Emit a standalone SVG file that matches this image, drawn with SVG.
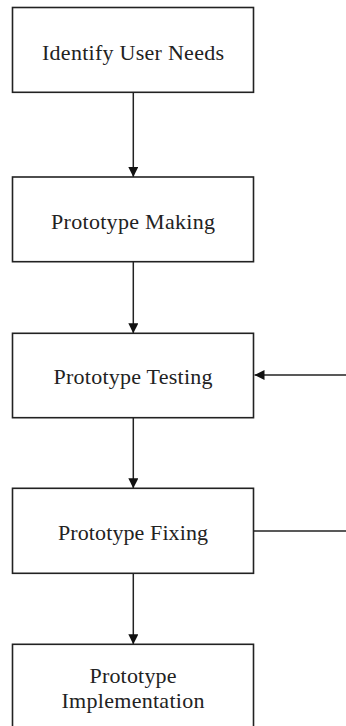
<svg xmlns="http://www.w3.org/2000/svg" width="346" height="726" viewBox="0 0 346 726">
<defs>
<marker id="ah" viewBox="0 0 10 10" refX="10" refY="5" markerWidth="10" markerHeight="10" markerUnits="userSpaceOnUse" orient="auto">
<path d="M0,0 L10,5 L0,10 z" fill="#111"/>
</marker>
<style>
.box{fill:#fff;stroke:#222;stroke-width:1.6}
.lbl{font-family:'Liberation Serif','Times New Roman',Times,'DejaVu Serif',serif;font-size:22px;fill:#222;text-anchor:middle}
.con{stroke:#222;stroke-width:1.5;fill:none}
</style>
</defs>
<rect width="346" height="726" fill="#fff"/>
<g id="connectors">
<line class="con" x1="133.3" y1="92.3" x2="133.3" y2="177" marker-end="url(#ah)"/>
<line class="con" x1="133.3" y1="261.7" x2="133.3" y2="333.3" marker-end="url(#ah)"/>
<line class="con" x1="133.3" y1="417.7" x2="133.3" y2="488.3" marker-end="url(#ah)"/>
<line class="con" x1="133.3" y1="573.3" x2="133.3" y2="644.3" marker-end="url(#ah)"/>
<line class="con" x1="346" y1="375" x2="254.5" y2="375" marker-end="url(#ah)"/>
<line class="con" x1="253.5" y1="531" x2="346" y2="531"/>
</g>
<g id="n1">
<rect class="box" x="12.5" y="7.5" width="241" height="84.8"/>
<text class="lbl" x="133" y="60" textLength="182">Identify User Needs</text>
</g>
<g id="n2">
<rect class="box" x="12.5" y="177" width="241" height="84.7"/>
<text class="lbl" x="133" y="229.3" textLength="164">Prototype Making</text>
</g>
<g id="n3">
<rect class="box" x="12.5" y="333.3" width="241" height="84.4"/>
<text class="lbl" x="133" y="384" textLength="159">Prototype Testing</text>
</g>
<g id="n4">
<rect class="box" x="12.5" y="488.3" width="241" height="85"/>
<text class="lbl" x="133" y="539.5" textLength="150">Prototype Fixing</text>
</g>
<g id="n5">
<rect class="box" x="12.5" y="644.3" width="241" height="90"/>
<text class="lbl" x="133" y="682.7" textLength="87">Prototype</text>
<text class="lbl" x="133" y="708.3" textLength="143">Implementation</text>
</g>
</svg>
